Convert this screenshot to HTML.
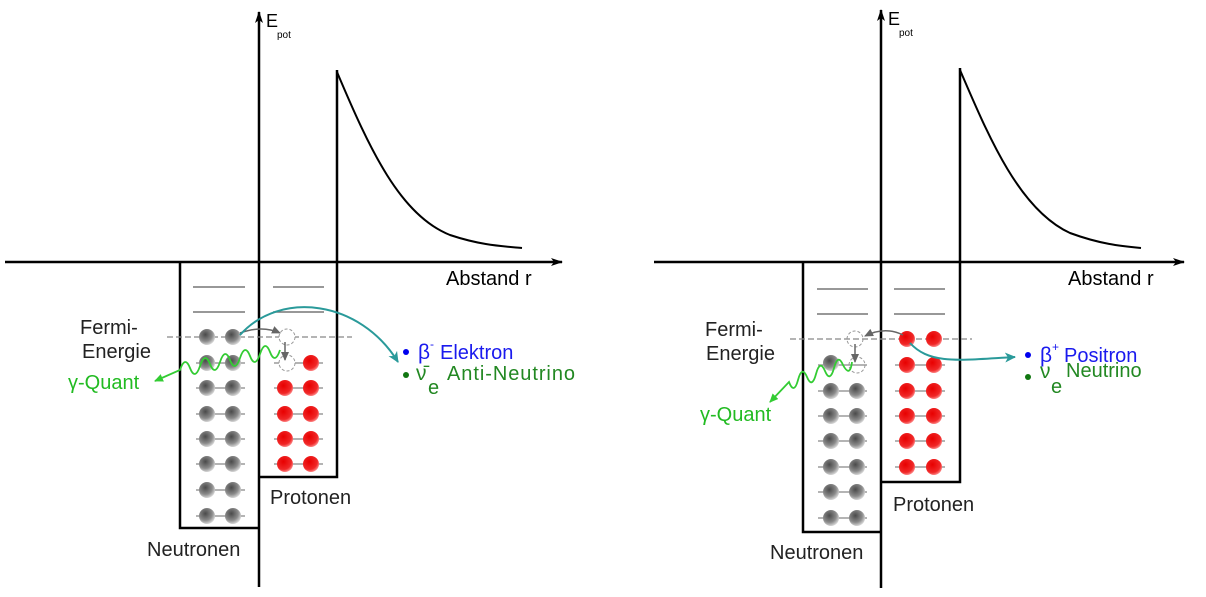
<!DOCTYPE html>
<html><head><meta charset="utf-8"><style>
html,body{margin:0;padding:0;background:#fff;}
svg{display:block;}
text{font-family:"Liberation Sans","DejaVu Sans",sans-serif;}
</style></head><body>
<svg width="1206" height="597" viewBox="0 0 1206 597" xmlns="http://www.w3.org/2000/svg">
<defs>
<radialGradient id="gb" cx="0.4" cy="0.35" r="0.7"><stop offset="0" stop-color="#4a4a4a"/><stop offset="0.6" stop-color="#8a8a8a"/><stop offset="1" stop-color="#e4e4e4"/></radialGradient>
<radialGradient id="rb" cx="0.4" cy="0.35" r="0.7"><stop offset="0" stop-color="#e80000"/><stop offset="0.7" stop-color="#f02828"/><stop offset="1" stop-color="#ff9a9a"/></radialGradient>
<marker id="ak" markerWidth="12" markerHeight="10" refX="11" refY="5" orient="auto" markerUnits="userSpaceOnUse"><path d="M0,1 L12,5 L0,9 L3,5 Z" fill="#000"/></marker>
<marker id="at" markerWidth="12" markerHeight="10" refX="10" refY="5" orient="auto" markerUnits="userSpaceOnUse"><path d="M0,0 L11,5 L0,10 L3,5 Z" fill="#2a9a9a"/></marker>
<marker id="ag" markerWidth="10" markerHeight="8" refX="8" refY="4" orient="auto" markerUnits="userSpaceOnUse"><path d="M0,0 L9,4 L0,8 Z" fill="#666"/></marker>
<marker id="agr" markerWidth="10" markerHeight="8" refX="8" refY="4" orient="auto" markerUnits="userSpaceOnUse"><path d="M0,0 L9,4 L0,8 Z" fill="#33cc33"/></marker>
</defs>

<!-- LEFT -->
<g stroke="#000" stroke-width="2.5" fill="none">
<line x1="5" y1="262" x2="562" y2="262" marker-end="url(#ak)"/>
<line x1="259" y1="587" x2="259" y2="12" marker-end="url(#ak)"/>
<polyline points="180,262 180,528 259,528"/>
<polyline points="259,477 337,477 337,70"/>
<path d="M337,72 C370,150 400,215 450,235 C480,245 500,246 522,248" stroke-width="2"/>
</g>
<text x="266" y="27" font-size="18">E</text><text x="277" y="38" font-size="10">pot</text>
<text x="446" y="285" font-size="20">Abstand r</text>
<g stroke="#777" stroke-width="1.5">
<line x1="193" y1="287" x2="245" y2="287"/><line x1="193" y1="312" x2="245" y2="312"/>
<line x1="273" y1="287" x2="324" y2="287"/><line x1="273" y1="312" x2="324" y2="312"/>
</g>
<line x1="167" y1="337" x2="352" y2="337" stroke="#888" stroke-width="1.2" stroke-dasharray="6,3"/>
<g stroke="#888" stroke-width="1.2">
<line x1="196" y1="363" x2="245" y2="363"/><line x1="196" y1="388" x2="245" y2="388"/><line x1="196" y1="414" x2="245" y2="414"/><line x1="196" y1="439" x2="245" y2="439"/><line x1="196" y1="464" x2="245" y2="464"/><line x1="196" y1="490" x2="245" y2="490"/><line x1="196" y1="516" x2="245" y2="516"/>
<line x1="274" y1="363" x2="323" y2="363"/><line x1="274" y1="388" x2="323" y2="388"/><line x1="274" y1="414" x2="323" y2="414"/><line x1="274" y1="439" x2="323" y2="439"/><line x1="274" y1="464" x2="323" y2="464"/>
</g>
<g fill="url(#gb)">
<circle cx="207" cy="337" r="8"/><circle cx="233" cy="337" r="8"/>
<circle cx="207" cy="363" r="8"/><circle cx="233" cy="363" r="8"/>
<circle cx="207" cy="388" r="8"/><circle cx="233" cy="388" r="8"/>
<circle cx="207" cy="414" r="8"/><circle cx="233" cy="414" r="8"/>
<circle cx="207" cy="439" r="8"/><circle cx="233" cy="439" r="8"/>
<circle cx="207" cy="464" r="8"/><circle cx="233" cy="464" r="8"/>
<circle cx="207" cy="490" r="8"/><circle cx="233" cy="490" r="8"/>
<circle cx="207" cy="516" r="8"/><circle cx="233" cy="516" r="8"/>
</g>
<g fill="url(#rb)">
<circle cx="311" cy="363" r="8"/>
<circle cx="285" cy="388" r="8"/><circle cx="311" cy="388" r="8"/>
<circle cx="285" cy="414" r="8"/><circle cx="311" cy="414" r="8"/>
<circle cx="285" cy="439" r="8"/><circle cx="311" cy="439" r="8"/>
<circle cx="285" cy="464" r="8"/><circle cx="311" cy="464" r="8"/>
</g>
<g fill="#fff" stroke="#999" stroke-dasharray="3,2" stroke-width="1">
<circle cx="287" cy="337" r="8"/><circle cx="287" cy="363" r="8"/>
</g>
<path d="M240,333 Q262,325 280,333" stroke="#666" stroke-width="1.5" fill="none" marker-end="url(#ag)"/>
<line x1="285" y1="342" x2="285" y2="360" stroke="#666" stroke-width="1.5" marker-end="url(#ag)"/>
<path d="M240,335 C280,290 360,300 398,362" stroke="#2a9a9a" stroke-width="2" fill="none" marker-end="url(#at)"/>
<path d="M280,350 q-5,15 -10,2 q-5,-13 -10,2 q-5,15 -10,2 q-5,-13 -10,2 q-5,15 -10,2 q-5,-13 -10,2 q-5,15 -10,2 q-5,-13 -10,2 q-5,15 -10,2 q-5,-13 -10,2 L155,381" stroke="#33cc33" stroke-width="1.8" fill="none" marker-end="url(#agr)"/>
<text x="80" y="334" font-size="20" fill="#222">Fermi-</text>
<text x="82" y="358" font-size="20" fill="#222">Energie</text>
<text x="68" y="389" font-size="20" fill="#22bb22">γ-Quant</text>
<circle cx="406" cy="352" r="3" fill="#0000ee"/>
<text x="418" y="359" font-size="21" fill="#1a1aee">β</text><text x="430" y="348" font-size="12" fill="#1a1aee">-</text>
<text x="440" y="359" font-size="20" fill="#1a1aee">Elektron</text>
<circle cx="406" cy="375" r="3" fill="#117711"/>
<text x="416" y="380" font-size="21" fill="#228822">ν̄</text><text x="428" y="394" font-size="20" fill="#228822">e</text>
<text x="447" y="380" font-size="20" fill="#228822" textLength="128">Anti-Neutrino</text>
<text x="270" y="504" font-size="20" fill="#222">Protonen</text>
<text x="147" y="556" font-size="20" fill="#222">Neutronen</text>

<!-- RIGHT -->
<g stroke="#000" stroke-width="2.5" fill="none">
<line x1="654" y1="262" x2="1184" y2="262" marker-end="url(#ak)"/>
<line x1="881" y1="588" x2="881" y2="10" marker-end="url(#ak)"/>
<polyline points="803,262 803,532 881,532"/>
<polyline points="881,482 960,482 960,68"/>
<path d="M960,70 C990,140 1020,210 1070,233 C1100,244 1120,246 1141,248" stroke-width="2"/>
</g>
<text x="888" y="25" font-size="18">E</text><text x="899" y="36" font-size="10">pot</text>
<text x="1068" y="285" font-size="20">Abstand r</text>
<g stroke="#777" stroke-width="1.5">
<line x1="817" y1="289" x2="868" y2="289"/><line x1="817" y1="314" x2="868" y2="314"/>
<line x1="894" y1="289" x2="945" y2="289"/><line x1="894" y1="314" x2="945" y2="314"/>
</g>
<line x1="790" y1="339" x2="972" y2="339" stroke="#888" stroke-width="1.2" stroke-dasharray="6,3"/>
<g stroke="#888" stroke-width="1.2">
<line x1="818" y1="365" x2="867" y2="365"/><line x1="818" y1="391" x2="867" y2="391"/><line x1="818" y1="416" x2="867" y2="416"/><line x1="818" y1="441" x2="867" y2="441"/><line x1="818" y1="467" x2="867" y2="467"/><line x1="818" y1="492" x2="867" y2="492"/><line x1="818" y1="518" x2="867" y2="518"/>
<line x1="895" y1="365" x2="945" y2="365"/><line x1="895" y1="391" x2="945" y2="391"/><line x1="895" y1="416" x2="945" y2="416"/><line x1="895" y1="441" x2="945" y2="441"/><line x1="895" y1="467" x2="945" y2="467"/>
</g>
<g fill="url(#gb)">
<circle cx="831" cy="363" r="8"/>
<circle cx="831" cy="391" r="8"/><circle cx="857" cy="391" r="8"/>
<circle cx="831" cy="416" r="8"/><circle cx="857" cy="416" r="8"/>
<circle cx="831" cy="441" r="8"/><circle cx="857" cy="441" r="8"/>
<circle cx="831" cy="467" r="8"/><circle cx="857" cy="467" r="8"/>
<circle cx="831" cy="492" r="8"/><circle cx="857" cy="492" r="8"/>
<circle cx="831" cy="518" r="8"/><circle cx="857" cy="518" r="8"/>
</g>
<g fill="url(#rb)">
<circle cx="907" cy="339" r="8"/><circle cx="934" cy="339" r="8"/>
<circle cx="907" cy="365" r="8"/><circle cx="934" cy="365" r="8"/>
<circle cx="907" cy="391" r="8"/><circle cx="934" cy="391" r="8"/>
<circle cx="907" cy="416" r="8"/><circle cx="934" cy="416" r="8"/>
<circle cx="907" cy="441" r="8"/><circle cx="934" cy="441" r="8"/>
<circle cx="907" cy="467" r="8"/><circle cx="934" cy="467" r="8"/>
</g>
<g fill="none" stroke="#999" stroke-dasharray="3,2" stroke-width="1">
<circle cx="855" cy="339" r="8"/><circle cx="857" cy="365" r="8"/>
</g>
<path d="M903,335 Q885,326 865,336" stroke="#666" stroke-width="1.5" fill="none" marker-end="url(#ag)"/>
<line x1="855" y1="344" x2="855" y2="362" stroke="#666" stroke-width="1.5" marker-end="url(#ag)"/>
<path d="M910,343 C930,365 960,360 1015,357" stroke="#2a9a9a" stroke-width="2" fill="none" marker-end="url(#at)"/>
<path d="M852,362 q-2,16 -9,3 q-5,-12 -9,3 q-4,15 -9,3 q-5,-12 -9,3 q-4,15 -9,3 q-5,-12 -9,3 q-4,15 -9,2 L770,402" stroke="#33cc33" stroke-width="1.8" fill="none" marker-end="url(#agr)"/>
<text x="705" y="336" font-size="20" fill="#222">Fermi-</text>
<text x="706" y="360" font-size="20" fill="#222">Energie</text>
<text x="700" y="421" font-size="20" fill="#22bb22">γ-Quant</text>
<circle cx="1028" cy="355" r="3" fill="#0000ee"/>
<text x="1040" y="362" font-size="21" fill="#1a1aee">β</text><text x="1052" y="351" font-size="12" fill="#1a1aee">+</text>
<text x="1064" y="362" font-size="20" fill="#1a1aee">Positron</text>
<circle cx="1028" cy="377" r="3" fill="#117711"/>
<text x="1040" y="378" font-size="21" fill="#228822">ν</text><text x="1051" y="393" font-size="20" fill="#228822">e</text>
<text x="1066" y="377" font-size="20" fill="#228822">Neutrino</text>
<text x="893" y="511" font-size="20" fill="#222">Protonen</text>
<text x="770" y="559" font-size="20" fill="#222">Neutronen</text>
</svg>
</body></html>
